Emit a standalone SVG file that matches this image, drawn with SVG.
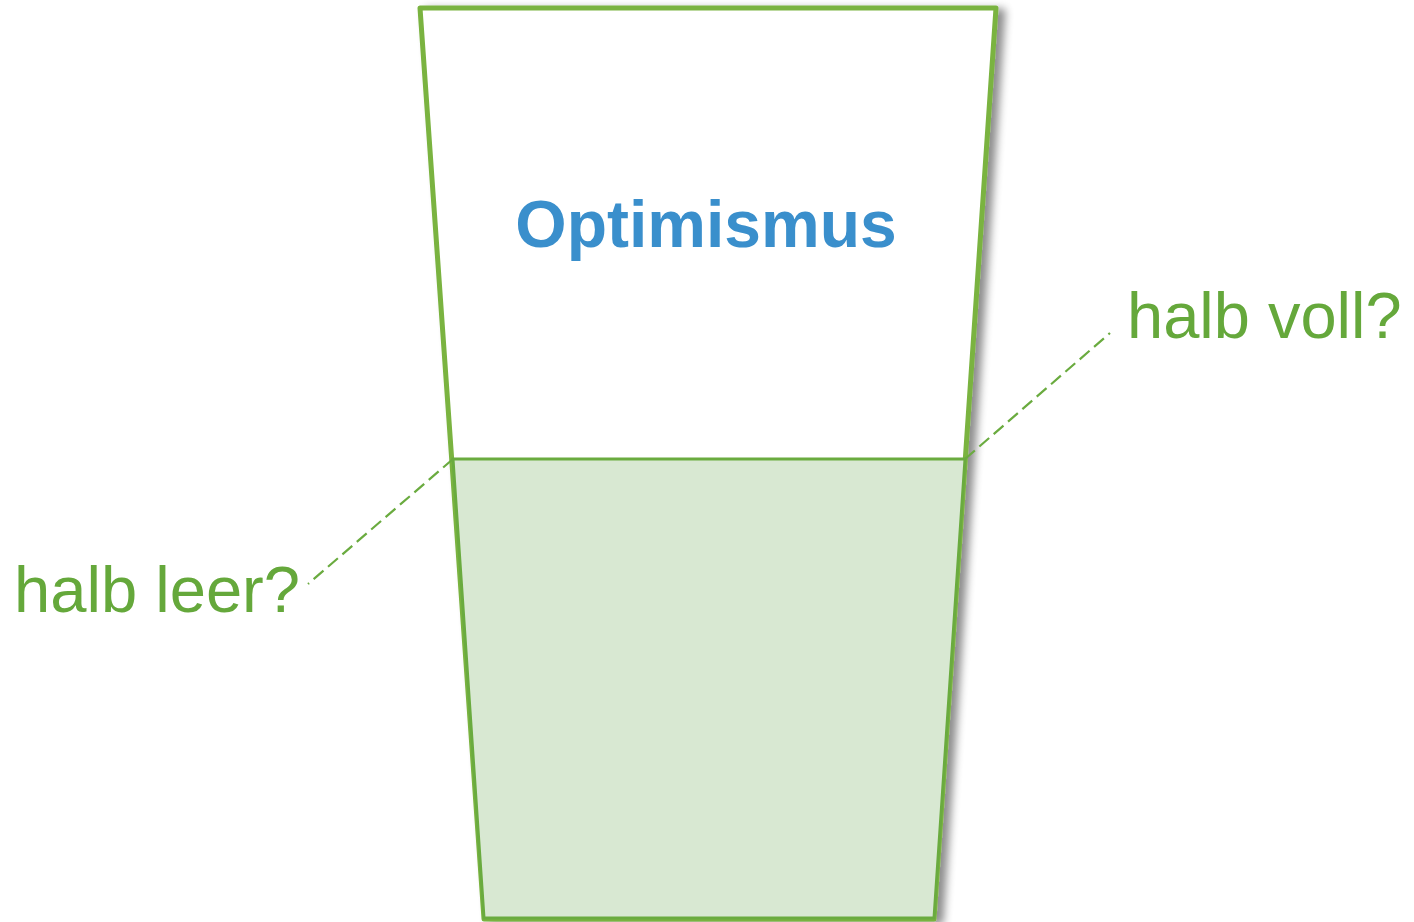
<svg xmlns="http://www.w3.org/2000/svg" width="1414" height="922" viewBox="0 0 1414 922">
<style>
.lbl{font-family:"Liberation Sans",Arial,sans-serif;font-size:65px;fill:#65a83b}
.title{font-family:"Liberation Sans",Arial,sans-serif;font-size:66px;font-weight:bold;fill:#3a8fcc}
.dash{stroke:#6aab3f;stroke-width:2.2;stroke-dasharray:13 6;fill:none}
</style>
<defs>
<filter id="sh" x="-10%" y="-10%" width="130%" height="130%">
<feGaussianBlur in="SourceAlpha" stdDeviation="4"/>
<feOffset dx="7" dy="3" result="b"/>
<feComponentTransfer><feFuncA type="linear" slope="0.45"/></feComponentTransfer>
<feMerge><feMergeNode/><feMergeNode in="SourceGraphic"/></feMerge>
</filter>
</defs>
<rect width="1414" height="922" fill="#fff"/>
<g id="glass" filter="url(#sh)">
<polygon points="420,8 996,8 934,919 484,919" fill="#fff" stroke="#7ab340" stroke-width="5" stroke-linejoin="round"/>
</g>
<g id="water">
<polygon points="453,459 965,459 934,918 484,918" fill="#d8e8d2" stroke="#6aab3f" stroke-width="3"/>
</g>
<g id="connectors">
<line class="dash" x1="965" y1="459" x2="1110" y2="333"/>
<line class="dash" x1="453" y1="459" x2="308" y2="584"/>
</g>
<g id="title"><text class="title" x="706" y="247" text-anchor="middle">Optimismus</text></g>
<g id="voll"><text class="lbl" x="1127" y="338">halb voll?</text></g>
<g id="leer"><text class="lbl" x="14" y="612" textLength="286" lengthAdjust="spacingAndGlyphs">halb leer?</text></g>
</svg>
